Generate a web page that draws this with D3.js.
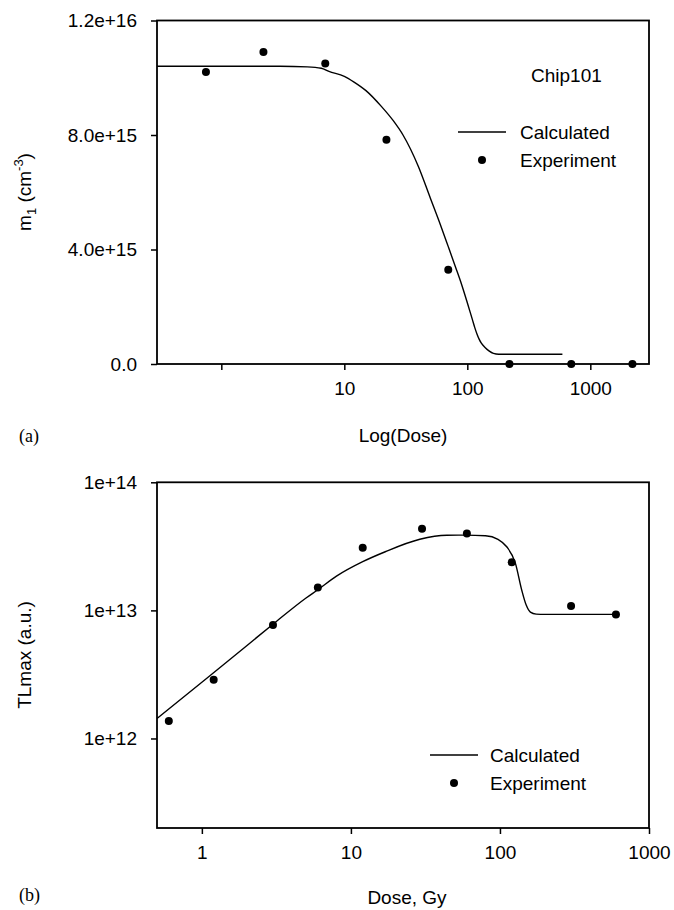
<!DOCTYPE html>
<html><head><meta charset="utf-8">
<script src="https://cdn.jsdelivr.net/npm/d3@7"></script>
<style>
body{margin:0;background:#fff;}
text{font-family:"Liberation Sans",Arial,sans-serif;fill:#000;}
</style></head>
<body>
<svg id="c" width="674" height="910"></svg>
<script>
// ---- Panel (a) data ----
const calcDoseA = [0.3, 1, 3, 5, 6.5, 7.5, 10, 12, 15, 20, 25, 30, 40, 50, 60, 70, 80, 90, 100, 105, 110, 115, 120, 125, 130, 140, 150, 163, 180, 593];
const calcValA  = [10.4, 10.4, 10.4, 10.38, 10.33, 10.22, 10.05, 9.85, 9.55, 9.0, 8.5, 8.0, 6.9, 5.8, 4.9, 4.1, 3.4, 2.77, 2.14, 1.84, 1.55, 1.27, 1.04, 0.86, 0.73, 0.57, 0.46, 0.37, 0.34, 0.34].map(v => v * 1e15);
const expDoseA  = [0.75, 2.2, 7, 22, 70, 220, 700, 2200];
const expValA   = [10.2, 10.9, 10.5, 7.83, 3.29, 0, 0, 0].map(v => v * 1e15);
const yTicksA   = [0, 4e15, 8e15, 1.2e16];
const yTickLabelsA = ["0.0", "4.0e+15", "8.0e+15", "1.2e+16"];
const xTicksA   = [1, 10, 100, 1000];
const xTickLabelsA = ["", "10", "100", "1000"];

// ---- Panel (b) data ----
const calcDoseB = [0.5, 1, 2, 3, 5, 6, 8, 12, 17, 29, 44, 58, 80, 97, 111, 127, 140, 150, 160, 175, 200, 600];
const calcValB  = [1.43e12, 2.75e12, 5.3e12, 7.8e12, 1.25e13, 1.45e13, 1.85e13, 2.4e13, 2.87e13, 3.59e13, 3.86e13, 3.87e13, 3.83e13, 3.59e13, 3.14e13, 2.33e13, 1.44e13, 1.1e13, 9.7e12, 9.35e12, 9.3e12, 9.3e12];
const expDoseB  = [0.6, 1.2, 3, 6, 12, 30, 60, 120, 300, 600];
const expValB   = [1.37e12, 2.87e12, 7.7e12, 1.51e13, 3.08e13, 4.34e13, 3.99e13, 2.38e13, 1.08e13, 9.3e12];
const yTicksB   = [1e12, 1e13, 1e14];
const yTickLabelsB = ["1e+12", "1e+13", "1e+14"];
const xTicksB   = [1, 10, 100, 1000];
const xTickLabelsB = ["1", "10", "100", "1000"];

const legendLabels = ["Calculated", "Experiment"];

const svg = d3.select("#c");
const FS = 19;

function panel(cfg) {
  const g = svg.append("g");
  const x = cfg.x, y = cfg.y;
  const [x0, x1] = x.range(), [yb, yt] = y.range();
  const line = d3.line().x(d => x(d[0])).y(d => y(d[1])).curve(d3.curveMonotoneX);
  g.append("path").datum(cfg.calcDose.map((d, i) => [d, cfg.calcVal[i]]))
    .attr("d", line).attr("fill", "none").attr("stroke", "#000").attr("stroke-width", 1.4);
  g.selectAll("circle.e").data(cfg.expDose.map((d, i) => [d, cfg.expVal[i]])).enter()
    .append("circle").attr("cx", d => x(d[0])).attr("cy", d => y(d[1])).attr("r", 4).attr("fill", "#000");
  g.append("rect").attr("x", x0).attr("y", yt).attr("width", x1 - x0).attr("height", yb - yt)
    .attr("fill", "none").attr("stroke", "#000").attr("stroke-width", 1.8);
  const ax = g.append("g").attr("transform", `translate(0,${yb})`)
    .call(d3.axisBottom(x).tickValues(cfg.xTicks).tickFormat((d, i) => cfg.xLabels[i]).tickSize(6).tickPadding(12));
  ax.select(".domain").remove();
  ax.selectAll("line").attr("stroke-width", 1.5);
  ax.selectAll("text").attr("font-size", FS).attr("font-family", "Liberation Sans, Arial, sans-serif");
  const ay = g.append("g").attr("transform", `translate(${x0},0)`)
    .call(d3.axisLeft(y).tickValues(cfg.yTicks).tickFormat((d, i) => cfg.yLabels[i]).tickSize(6).tickPadding(14));
  ay.select(".domain").remove();
  ay.selectAll("line").attr("stroke-width", 1.5);
  ay.selectAll("text").attr("font-size", FS).attr("font-family", "Liberation Sans, Arial, sans-serif");
  const L = cfg.legend;
  g.append("line").attr("x1", L.x).attr("x2", L.x + 48).attr("y1", L.y).attr("y2", L.y).attr("stroke", "#000").attr("stroke-width", 1.3);
  g.append("circle").attr("cx", L.x + 24).attr("cy", L.y + 28).attr("r", 4).attr("fill", "#000");
  g.append("text").attr("x", L.tx).attr("y", L.y).attr("dy", "0.35em").attr("font-size", FS).text(legendLabels[0]);
  g.append("text").attr("x", L.tx).attr("y", L.y + 28).attr("dy", "0.35em").attr("font-size", FS).text(legendLabels[1]);
  return g;
}

// Panel (a)
const xA = d3.scaleLog().domain([0.3, 3000]).range([157, 649]);
const yA = d3.scaleLinear().domain([0, 1.2e16]).range([364, 20.5]);
panel({x: xA, y: yA, calcDose: calcDoseA, calcVal: calcValA, expDose: expDoseA, expVal: expValA,
  xTicks: xTicksA, xLabels: xTickLabelsA, yTicks: yTicksA, yLabels: yTickLabelsA,
  legend: {x: 458, y: 132, tx: 520}});
svg.append("text").attr("x", 531).attr("y", 75).attr("dy", "0.35em").attr("font-size", FS).text("Chip101");
svg.append("text").attr("x", 403).attr("y", 435).attr("dy", "0.35em").attr("text-anchor", "middle").attr("font-size", FS).text("Log(Dose)");
const tA = svg.append("text").attr("transform", "translate(31,192) rotate(-90)").attr("text-anchor", "middle").attr("font-size", FS);
tA.append("tspan").text("m");
tA.append("tspan").attr("font-size", 13).attr("dy", 5).text("1");
tA.append("tspan").attr("dy", -5).text(" (cm");
tA.append("tspan").attr("font-size", 13).attr("dy", -8).text("-3");
tA.append("tspan").attr("dy", 8).text(")");
svg.append("text").attr("x", 19).attr("y", 436).attr("dy", "0.35em").attr("font-size", 18)
  .style("font-family", "Liberation Serif, serif").text("(a)");

// Panel (b)
const xB = d3.scaleLog().domain([0.5, 1000]).range([157, 649]);
const yB = d3.scaleLog().domain([2e11, 1e14]).range([828, 482.3]);
panel({x: xB, y: yB, calcDose: calcDoseB, calcVal: calcValB, expDose: expDoseB, expVal: expValB,
  xTicks: xTicksB, xLabels: xTickLabelsB, yTicks: yTicksB, yLabels: yTickLabelsB,
  legend: {x: 430, y: 755, tx: 490}});
svg.append("text").attr("x", 407).attr("y", 897).attr("dy", "0.35em").attr("text-anchor", "middle").attr("font-size", FS).text("Dose, Gy");
svg.append("text").attr("transform", "translate(31,655) rotate(-90)").attr("text-anchor", "middle").attr("font-size", FS).text("TLmax (a.u.)");
svg.append("text").attr("x", 19).attr("y", 895).attr("dy", "0.35em").attr("font-size", 18)
  .style("font-family", "Liberation Serif, serif").text("(b)");
</script>
</body></html>
